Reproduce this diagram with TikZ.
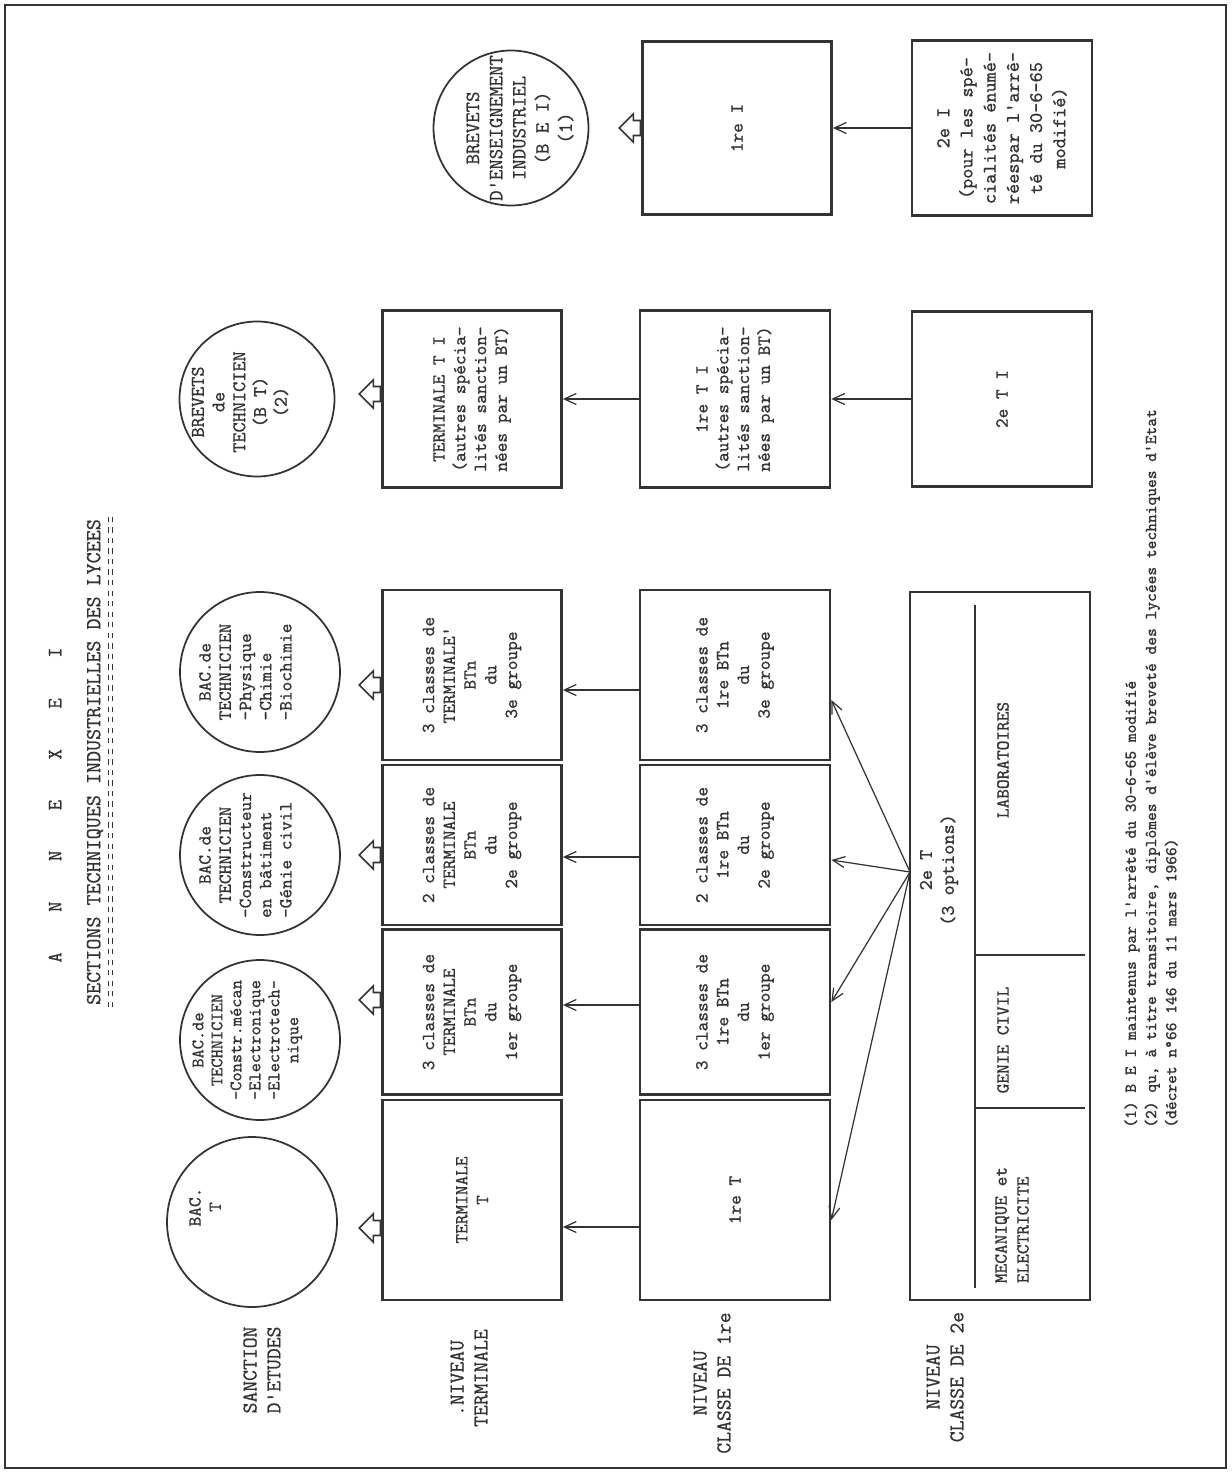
\documentclass[tikz,border=0pt]{standalone}
\usepackage{fontspec}
\setmonofont{Latin Modern Mono}[UprightFeatures={FakeBold=0.8}]
\usepackage{xcolor}
\usepackage{tikz}
\usetikzlibrary{shapes.arrows,arrows.meta,positioning,calc}
\definecolor{ink}{HTML}{333333}

\begin{document}
\begin{tikzpicture}[
    x=0.02cm, y=-0.02cm,
    every node/.style={text=ink, font=\ttfamily\fontsize{10.5}{11.8}\selectfont},
    lvl/.style={rotate=90, align=center, font=\ttfamily\fontsize{12}{13.6}\selectfont},
    box/.style={draw=ink, line width=1.6pt, rotate=90, align=center, inner sep=2pt},
    bac/.style={draw=ink, line width=1pt, circle, rotate=90, inner sep=0pt},
    bactxt/.style={rotate=90, inner sep=0pt, font=\ttfamily\fontsize{10.5}{11.5}\selectfont},
    hollow/.style={single arrow, draw=ink, line width=0.9pt, rotate=90, shape border rotate=90,
        minimum height=0.42cm, minimum width=0.56cm, single arrow head extend=0.1cm, inner sep=0.1cm},
    link/.style={draw=ink, line width=0.7pt, ->},
    >={Straight Barb[length=2.4mm,width=2.2mm]},
]
    \useasboundingbox (0,0) rectangle (1231,1473);
    \draw[ink, line width=0.6pt] (5,5) rectangle (1226,1468);

    % titre
    \node[rotate=90, font=\ttfamily\fontsize{11.5}{13}\selectfont] (annexe) at (55,805)
        {A\hspace{23pt}N\hspace{23pt}N\hspace{23pt}E\hspace{23pt}X\hspace{23pt}E\hspace{23pt}I};
    \node[rotate=90, inner sep=1pt, font=\ttfamily\fontsize{12.2}{14}\selectfont] (titre) at (95,762)
        {SECTIONS TECHNIQUES INDUSTRIELLES DES LYCEES};
    \draw[ink, dashed, line width=0.7pt] ($(titre.south west)+(3,0)$) -- ($(titre.south east)+(3,0)$);
    \draw[ink, dashed, line width=0.7pt] ($(titre.south west)+(7,0)$) -- ($(titre.south east)+(7,0)$);

    % niveaux
    \node[lvl] (sanction) at (262,1370) {SANCTION\\D'ETUDES};
    \node[lvl] (nivterm) at (469,1378) {.NIVEAU\\TERMINALE};
    \node[lvl] (nivpre) at (712,1383) {NIVEAU\\CLASSE DE 1re};
    \node[lvl] (nivsec) at (945,1377) {NIVEAU\\CLASSE DE 2e};

    % sanctions
    \node[bac, minimum size=3.4cm] (c1) at (252,1222) {};
    \node[bactxt, align=center] (c1t) at (205,1207) {BAC.\\T};
    \node[bac, minimum size=3.2cm] (c2) at (260,1040) {};
    \node[bactxt, font=\ttfamily\fontsize{10}{10.8}\selectfont] (c2t) at (247,1040) {\begin{tabular}{@{}l@{}}\multicolumn{1}{@{}c@{}}{BAC.de}\\
        \multicolumn{1}{@{}c@{}}{TECHNICIEN}\\-Constr.mécan\\-Electronique\\-Electrotech-\\
        \multicolumn{1}{@{}c@{}}{nique}\end{tabular}};
    \node[bac, minimum size=3.2cm] (c3) at (260,855) {};
    \node[bactxt] (c3t) at (247,855) {\begin{tabular}{@{}l@{}}\multicolumn{1}{@{}c@{}}{BAC.de}\\
        \multicolumn{1}{@{}c@{}}{TECHNICIEN}\\-Constructeur\\en bâtiment\\-Génie civil\end{tabular}};
    \node[bac, minimum size=3.2cm] (c4) at (260,672) {};
    \node[bactxt] (c4t) at (247,672) {\begin{tabular}{@{}l@{}}\multicolumn{1}{@{}c@{}}{BAC.de}\\
        \multicolumn{1}{@{}c@{}}{TECHNICIEN}\\-Physique\\-Chimie\\-Biochimie\end{tabular}};
    \node[bac, minimum size=3.1cm] (c5) at (257,399) {};
    \node[bactxt, align=center, font=\ttfamily\fontsize{11}{11.8}\selectfont] (c5t) at (240,402)
        {BREVETS\\de\\TECHNICIEN\\(B T)\\(2)};
    \node[bac, minimum size=3.1cm] (c6) at (511,128) {};
    \node[bactxt, align=center, font=\ttfamily\fontsize{11.5}{13.2}\selectfont] (c6t) at (520,128)
        {BREVETS\\D'ENSEIGNEMENT\\INDUSTRIEL\\(B E I)\\(1)};

    % niveau terminale
    \node[box, minimum width=4cm, minimum height=3.58cm] (t1) at (472,1200) {TERMINALE\\T};
    \node[box, minimum width=3.3cm, minimum height=3.58cm] (t2) at (472,1012)
        {3 classes de\\TERMINALE\\BTn\\du\\1er groupe};
    \node[box, minimum width=3.2cm, minimum height=3.58cm] (t3) at (472,845)
        {2 classes de\\TERMINALE\\BTn\\du\\2e groupe};
    \node[box, minimum width=3.4cm, minimum height=3.58cm] (t4) at (472,675)
        {3 classes de\\TERMINALE'\\BTn\\du\\3e groupe};
    \node[box, minimum width=3.54cm, minimum height=3.58cm] (t5) at (472,399)
        {TERMINALE T I\\(autres spécia-\\lités sanction-\\nées par un BT)};

    % niveau 1re
    \node[box, minimum width=4cm, minimum height=3.8cm] (p1) at (735,1200) {1re T};
    \node[box, minimum width=3.3cm, minimum height=3.8cm] (p2) at (735,1012)
        {3 classes de\\1re BTn\\du\\1er groupe};
    \node[box, minimum width=3.2cm, minimum height=3.8cm] (p3) at (735,845)
        {2 classes de\\1re BTn\\du\\2e groupe};
    \node[box, minimum width=3.4cm, minimum height=3.8cm] (p4) at (735,675)
        {3 classes de\\1re BTn\\du\\3e groupe};
    \node[box, minimum width=3.54cm, minimum height=3.8cm] (p5) at (735,399)
        {1re T I\\(autres spécia-\\lités sanction-\\nées par un BT)};
    \node[box, minimum width=3.46cm, minimum height=3.78cm] (p6) at (737,128) {1re I};

    % niveau 2e
    \node[box, minimum width=14.16cm, minimum height=3.6cm] (s1) at (1000,946) {};
    \node[rotate=90, align=center, font=\ttfamily\fontsize{11}{12.5}\selectfont] (s1t) at (939,870)
        {2e T\\(3 options)};
    \node[rotate=90, align=left, font=\ttfamily\fontsize{10.5}{12.5}\selectfont] (mec) at (1012,1225)
        {MECANIQUE et\\ELECTRICITE};
    \node[rotate=90, font=\ttfamily\fontsize{10.5}{12.5}\selectfont] (gc) at (1003,1040) {GENIE CIVIL};
    \node[rotate=90, font=\ttfamily\fontsize{10.5}{12.5}\selectfont] (labo) at (1003,760) {LABORATOIRES};
    \draw[ink, line width=1pt] (975,1288) -- (975,605);
    \draw[ink, line width=1pt] (975,1108) -- (1085,1108);
    \draw[ink, line width=1pt] (975,955) -- (1085,955);
    \node[box, minimum width=3.5cm, minimum height=3.6cm] (s5) at (1002,399) {2e T I};
    \node[box, minimum width=3.5cm, minimum height=3.6cm, font=\ttfamily\fontsize{11}{13.2}\selectfont] (s6) at (1002,128)
        {2e I\\(pour les spé-\\cialités énumé-\\réespar l'arrê-\\té du 30-6-65\\modifié)};

    % liaisons
    \coordinate (fan) at (910,872);
    \draw[link] (fan) -- ($(p1.south)+(0,20)$);
    \draw[link] (fan) -- ($(p2.south)+(0,-10)$);
    \draw[link] (fan) -- ($(p3.south)+(0,15)$);
    \draw[link] (fan) -- ($(p4.south)+(0,25)$);
    \draw[link] ($(p1.north)+(0,27)$) -- ($(t1.south)+(0,27)$);
    \draw[link] ($(p2.north)+(0,-7)$) -- ($(t2.south)+(0,-7)$);
    \draw[link] ($(p3.north)+(0,12)$) -- ($(t3.south)+(0,12)$);
    \draw[link] ($(p4.north)+(0,15)$) -- ($(t4.south)+(0,15)$);
    \draw[link] (p5.north) -- (t5.south);
    \draw[link] (s5.north) -- (p5.south);
    \draw[link] (s6.north) -- (p6.south);

    \node[hollow, anchor=tail] (h1) at ($(t1.north)+(0,28)$) {};
    \node[hollow, anchor=tail] (h2) at ($(t2.north)+(0,-12)$) {};
    \node[hollow, anchor=tail] (h3) at ($(t3.north)+(0,10)$) {};
    \node[hollow, anchor=tail] (h4) at ($(t4.north)+(0,10)$) {};
    \node[hollow, anchor=tail] (h5) at ($(t5.north)+(0,-5)$) {};
    \node[hollow, anchor=tail] (h6) at (p6.north) {};

    % renvois
    \node[rotate=90, anchor=west, align=left, inner sep=0pt, font=\ttfamily\fontsize{9.5}{11.5}\selectfont] (notes) at (1151,1128)
        {(1) B E I maintenus par l'arrêté du 30-6-65 modifié\\
         (2) qu, à titre transitoire, diplômes d'élève breveté des lycées techniques d'Etat\\
         (décret n°66 146 du 11 mars 1966)};
\end{tikzpicture}
\end{document}
